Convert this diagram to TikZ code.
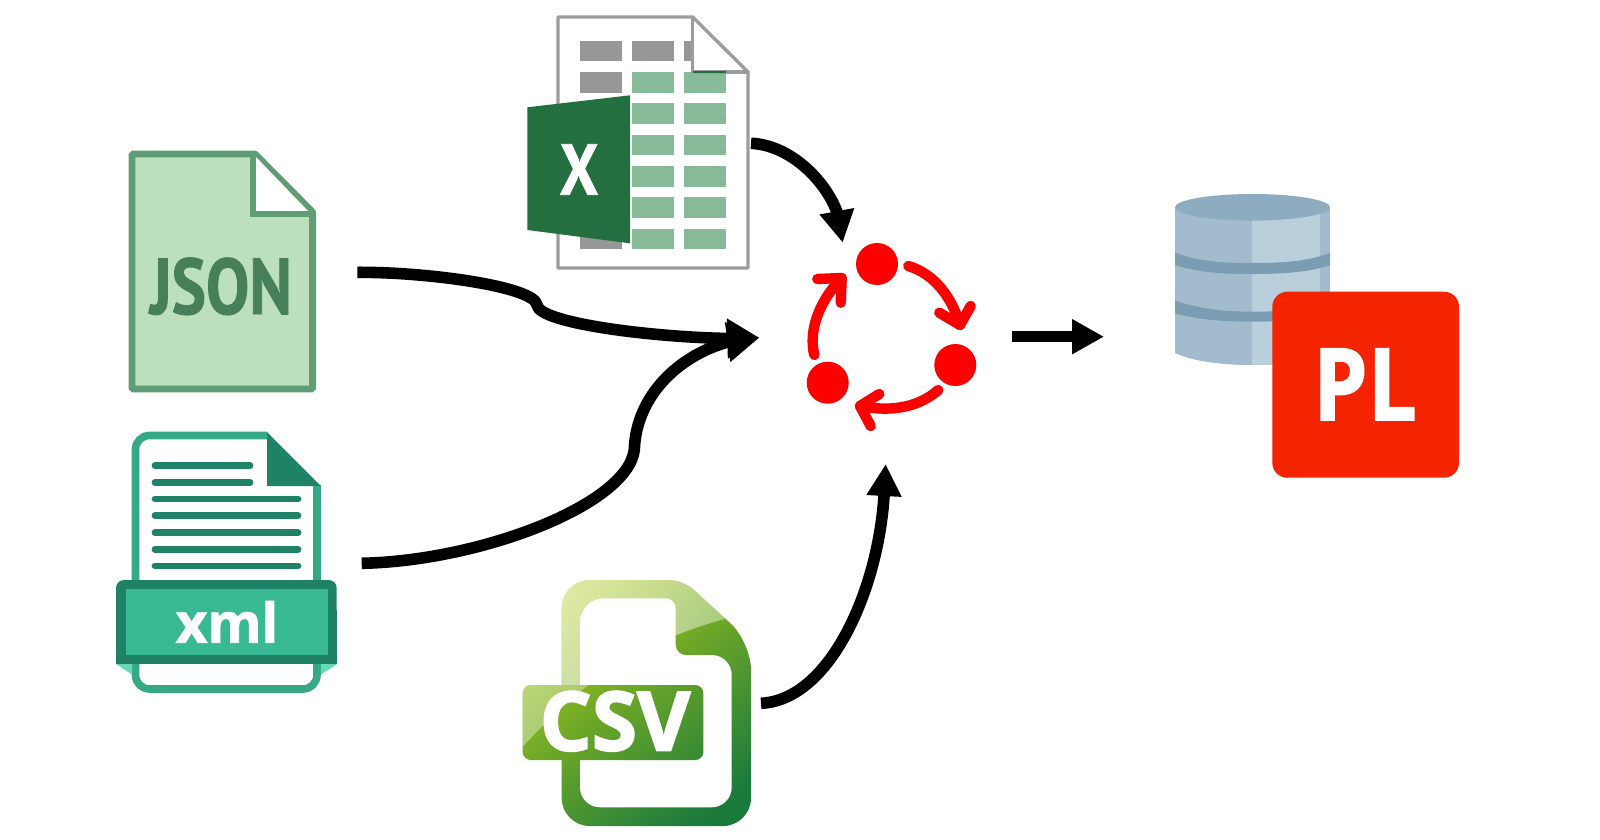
\documentclass[tikz,border=0pt]{standalone}
\usepackage{fontspec}
\usetikzlibrary{arrows.meta,fadings}
\newfontfamily\osans[FakeBold=1.5]{Open Sans}
\newfontfamily\csvfont[FakeBold=2.2]{Open Sans}
\newfontfamily\ptsans[FakeBold=1.2]{PT Sans}
\definecolor{jsonline}{HTML}{5F9E75}
\definecolor{jsonfill}{HTML}{BCE0BB}
\definecolor{jsontext}{HTML}{478058}
\definecolor{xmlline}{HTML}{35A985}
\definecolor{xmldark}{HTML}{1F8266}
\definecolor{xmlband}{HTML}{38B994}
\definecolor{xmlpale}{HTML}{64D9B2}
\definecolor{xlgray}{HTML}{979797}
\definecolor{xlline}{HTML}{9C9C9C}
\definecolor{xlcell}{HTML}{87BB9A}
\definecolor{xlgreen}{HTML}{236F40}
\definecolor{csvlight}{HTML}{B2CC18}
\definecolor{csvmid}{HTML}{8AB218}
\definecolor{csvdark}{HTML}{1A7A3C}
\definecolor{dbtop}{HTML}{8DACC0}
\definecolor{dbleft}{HTML}{A2BBCD}
\definecolor{dblight}{HTML}{B9CFDC}
\definecolor{dbband}{HTML}{7B9DB3}
\definecolor{plred}{HTML}{F52400}
\definecolor{cyclered}{HTML}{FC0000}
\tikzset{
  flow/.style={draw=black,line width=5.8pt,line join=round,-{Triangle[length=16pt,width=19pt]}},
  flowb/.style={draw=black,line width=5.8pt,line join=round,-{Triangle[length=16pt,width=16.5pt]}},
  flowc/.style={draw=black,line width=5.5pt,-{Triangle[length=16pt,width=16.5pt]}},
  cyclearrow/.style={draw=cyclered,line width=5.2pt,line cap=round,line join=round},
  cycledot/.style={circle,fill=cyclered,minimum size=21pt,inner sep=0pt},
  label/.style={inner sep=0pt,anchor=base},
  xmlrule/.style={draw=xmldark,line width=3.4pt,line cap=round},
}
\newcommand{\csvgloss}{(510,760) .. controls (575,690) and (625,645) .. (735,616) -- (770,570) -- (500,570) -- cycle}
\newcommand{\csvpaint}[2]{%
  \shade[top color=csvlight,middle color=csvmid,bottom color=csvdark,shading angle=38] (500,570) rectangle (770,835);
  \fill[white,opacity=#1] \csvgloss;
  \fill[white,opacity=#2,path fading=east] \csvgloss;
}
\begin{document}
\begin{tikzpicture}[x=0.5pt,y=-0.5pt]
\useasboundingbox (0,0) rectangle (1600,840);

% JSON
\draw[draw=jsonline,fill=jsonfill,line width=3.4pt,line join=bevel]
  (132,154) -- (255,154) -- (312.6,212) -- (312.6,389) -- (132,389) -- cycle;
\fill[white] (255,156) -- (310,213) -- (255,213) -- cycle;
\draw[draw=jsonline,line width=3.4pt] (253,154) -- (253,214) -- (312.6,214);
\node[label,text=jsontext] (jsontxt) at (221,314)
  {\scalebox{.82}[1]{\ptsans\bfseries\fontsize{39.5pt}{40pt}\selectfont JSON}};

% XML
\fill[white] (135,435) -- (267,435) -- (317.5,485) -- (317.5,689) -- (135,689) -- cycle;
\draw[draw=xmlline,line width=3.8pt,rounded corners=7pt]
  (267,435.5) -- (135.5,435.5) -- (135.5,689) -- (317,689) -- (317,485);
\fill[xmldark] (267,432) -- (321,486) -- (267,486) -- cycle;
\draw[xmlrule] (155,465.7) -- (250,465.7);
\draw[xmlrule] (155,482.3) -- (250,482.3);
\foreach \yy in {499,515.7,532.7,549.3,566}{\draw[xmlrule] (155,\yy) -- (298,\yy);}
\fill[xmlpale] (116,664) -- (132,674.5) -- (132,664) -- cycle;
\fill[xmlpale] (337,664) -- (321,674.5) -- (321,664) -- cycle;
\fill[xmldark,rounded corners=4pt] (116,640) -- (116,580) -- (336.7,580) -- (336.7,640) -- cycle;
\fill[xmldark] (116,610) rectangle (336.7,664);
\fill[xmlband] (125.7,589.3) rectangle (327.7,654.7);
\node[label,text=white] (xmltxt) at (227,642.7)
  {\osans\bfseries\fontsize{27.5pt}{28pt}\selectfont xml};

% Excel
\fill[white] (558,17) -- (692.7,17) -- (748,72) -- (748,268) -- (558,268) -- cycle;
\fill[xlgray] (580.3,40.7) rectangle (622,61.3);
\fill[xlgray] (632.3,40.7) rectangle (674,61.3);
\fill[xlgray] (684.3,40.7) rectangle (693,61.3);
\fill[xlgray] (580.3,72) rectangle (622,92.7);
\fill[xlgray] (580.3,228.7) rectangle (622,249.3);
\foreach \ya/\yb in {72/92.7,103.3/124,134.7/155,166/187,197.3/218,228.7/249.3}{
  \fill[xlcell] (632.3,\ya) rectangle (674,\yb);
  \fill[xlcell] (684.3,\ya) rectangle (726,\yb);
}
\draw[draw=xlline,line width=1.7pt,line join=bevel]
  (558,17) -- (692.7,17) -- (748,72) -- (748,268) -- (558,268) -- cycle;
\draw[draw=xlline,line width=1.7pt] (692.7,17) -- (692.7,72) -- (748,72);
\draw[draw=xlgreen,line width=1pt] (692.7,72) -- (726,72);
\fill[xlgreen] (527.3,107.3) -- (630,95.3) -- (630,243.3) -- (527.3,230) -- cycle;
\node[label,text=white] (xltxt) at (579,194.7)
  {\scalebox{.85}[1]{\ptsans\bfseries\fontsize{36pt}{37pt}\selectfont X}};

% CSV
\begin{scope}
  \clip[rounded corners=14pt] (561.7,826) -- (561.7,580) [rounded corners=7pt] -- (683,580) [rounded corners=14pt] -- (751,642) -- (751,826) -- cycle;
  \csvpaint{.36}{.5}
\end{scope}
\fill[white,rounded corners=12pt] (580,807.3) -- (580,598.3) [rounded corners=5pt] -- (675.7,598.3) -- (675.7,655) [rounded corners=10pt] -- (731.7,655) -- (731.7,807.3) -- cycle;
\begin{scope}
  \clip[rounded corners=4pt] (522.7,685) rectangle (703.3,760);
  \csvpaint{.2}{.25}
\end{scope}
\node[label,text=white] (csvtxt) at (615,750.5)
  {\csvfont\bfseries\fontsize{41pt}{42pt}\selectfont CSV};

% Database
\fill[dbleft] (1175,207.3) -- (1252.3,207.3) -- (1252.3,365) .. controls (1215,365) and (1190,360) .. (1175,353) -- cycle;
\fill[dblight] (1252.3,207.3) rectangle (1320,365);
\fill[dbleft] (1320,207.3) rectangle (1330,340);
\fill[dbband] (1175,252.7) .. controls (1200,262) and (1225,263) .. (1252.3,263) .. controls (1285,263) and (1310,261) .. (1330,252.7) -- (1330,265) .. controls (1310,272) and (1285,274) .. (1252.3,274) .. controls (1225,274) and (1200,273) .. (1175,265) -- cycle;
\fill[dbband] (1175,300.7) .. controls (1200,309) and (1225,311.7) .. (1252.3,311.7) .. controls (1285,311.7) and (1310,309) .. (1330,300.7) -- (1330,312) .. controls (1310,319) and (1285,321.7) .. (1252.3,321.7) .. controls (1225,321.7) and (1200,320) .. (1175,313.3) -- cycle;
\fill[dbtop] (1252.5,207.3) ellipse [x radius=77.5,y radius=13.3];
\node[draw=none,fill=plred,rounded corners=7.5pt,minimum width=93.35pt,minimum height=93pt,inner sep=0pt] (plbox) at (1365.65,384.7) {};
\node[label,text=white] (pltxt) at (1365,420)
  {\scalebox{.87}[1]{\osans\bfseries\fontsize{50pt}{51pt}\selectfont PL}};

% Cycle
\node[cycledot] (dotA) at (877,264) {};
\node[cycledot] (dotB) at (955.3,365) {};
\node[cycledot] (dotC) at (827.7,382.7) {};
\draw[cyclearrow] (908.3,266) .. controls (935,274) and (952,298) .. (960,325);
\draw[cyclearrow] (939.3,312.7) -- (960,325) -- (970.7,306);
\draw[cyclearrow] (938.3,390) .. controls (918,408) and (890,412) .. (860,406);
\draw[cyclearrow] (879.3,394) -- (860,406) -- (870.7,426);
\draw[cyclearrow] (814.3,355) .. controls (808,330) and (820,300) .. (841.7,278);
\draw[cyclearrow] (817.3,279) -- (841.7,278) -- (840.7,302.7);

% Connectors
\coordinate (jsonout) at (357.3,272.3);
\coordinate (xmlout) at (361.7,563.3);
\coordinate (xlout) at (751,143.3);
\coordinate (csvout) at (761,703.3);
\coordinate (cyclein) at (759.3,337.7);
\coordinate (cycletop) at (842.7,242.7);
\coordinate (cyclebot) at (885.7,464);
\coordinate (cycleout) at (1012.3,336.7);
\coordinate (dbin) at (1104,336.7);
\coordinate (jsonbend) at (537,305);
\coordinate (xmlbend) at (634.3,450);
\draw[flow] (jsonout) .. controls (430,272) and (535,287) .. (jsonbend) .. controls (539,323) and (650,337) .. (728,338.5) -- (cyclein);
\draw[flow] (xmlout) .. controls (480,561) and (627,505) .. (xmlbend) .. controls (636,395) and (680,355) .. (728,342) -- (cyclein);
\draw[flowb] (xlout) .. controls (790,145) and (825,180) .. (837,212) -- (cycletop);
\draw[flowb] (csvout) .. controls (830,700) and (878,590) .. (884,496) -- (cyclebot);
\draw[flowc] (cycleout) -- (dbin);
\end{tikzpicture}
\end{document}
